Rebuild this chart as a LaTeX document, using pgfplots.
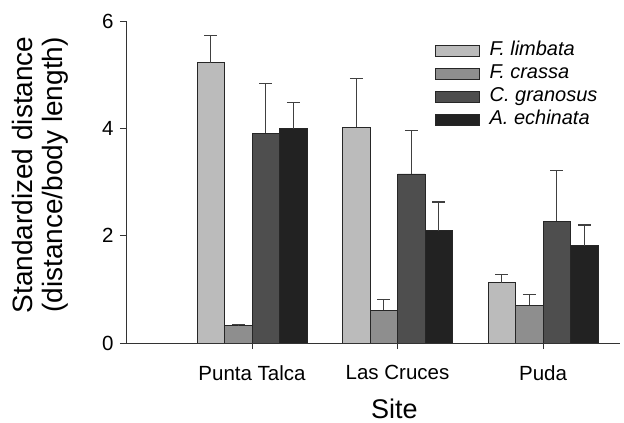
\documentclass[border=0pt]{standalone}
\usepackage{fontspec}
\setmainfont{Liberation Sans}
\usepackage{pgfplots}
\usepackage{pgfplotstable}
\pgfplotsset{compat=1.18}
\definecolor{cA}{HTML}{BBBBBB}
\definecolor{cB}{HTML}{8E8E8E}
\definecolor{cC}{HTML}{4E4E4E}
\definecolor{cD}{HTML}{222222}
\pgfplotstableread{
x y e
0 5.22 0.51
1 4.02 0.91
2 1.12 0.15
}\limbata
\pgfplotstableread{
x y e
0 0.32 0.03
1 0.61 0.20
2 0.70 0.20
}\crassa
\pgfplotstableread{
x y e
0 3.91 0.92
1 3.15 0.81
2 2.27 0.94
}\granosus
\pgfplotstableread{
x y e
0 3.99 0.49
1 2.09 0.54
2 1.81 0.39
}\echinata
\begin{document}
\begin{tikzpicture}
\begin{axis}[
  scale only axis, width=494pt, height=322pt,
  xmin=-0.866, xmax=2.529, ymin=0, ymax=6,
  axis lines*=left,
  axis line style={line width=0.9pt, black!80},
  ybar=0pt, bar width=27.5pt,
  xtick={0,1,2}, xticklabels={Punta Talca, Las Cruces, Puda},
  ytick={0,2,4,6},
  tick align=outside, major tick length=6pt,
  tick style={line width=0.9pt, black!80},
  /pgf/number format/assume math mode=true,
  tick label style={font=\fontsize{20.5}{24}\selectfont},
  xticklabel style={yshift=-13pt},
  yticklabel style={xshift=-3pt},
  ylabel={Standardized distance\\(distance/body length)},
  ylabel style={align=center, font=\fontsize{28}{30}\selectfont, at={(axis description cs:-0.174,0.522)}, anchor=center},
  xlabel={Site},
  xlabel style={font=\fontsize{27}{30}\selectfont, at={(axis description cs:0.5435,-0.203)}, anchor=center},
  legend image code/.code={\draw[#1, line width=0.8pt] (0pt,-5.5pt) rectangle (44pt,5.5pt); \path[draw=none, fill=none] (52pt,0pt);},
  legend cell align=left,
  legend style={at={(rel axis cs:0.6255,0.943)}, anchor=north west, draw=none, fill=none,
    inner sep=0pt, font=\itshape\fontsize{20}{22}\selectfont, row sep=0pt,
    nodes={text height=14pt, text depth=4.5pt, inner ysep=2.2pt, inner xsep=2pt}},
  error bars/y dir=plus, error bars/y explicit,
  error bars/error bar style={line width=1.3pt, black!75},
  error bars/error mark options={rotate=90, line width=1.3pt, black!75, mark size=6.5pt},
]
\addplot[fill=cA, draw=black!85, line width=0.8pt] table[x=x, y=y, y error=e]{\limbata};
\addplot[fill=cB, draw=black!85, line width=0.8pt] table[x=x, y=y, y error=e]{\crassa};
\addplot[fill=cC, draw=black!85, line width=0.8pt] table[x=x, y=y, y error=e]{\granosus};
\addplot[fill=cD, draw=black!85, line width=0.8pt] table[x=x, y=y, y error=e]{\echinata};
\legend{F. limbata, F. crassa, C. granosus, A. echinata}
\end{axis}
\pgfresetboundingbox
\path ([shift={(-126pt,-80pt)}]current axis.south west) rectangle ++(624pt,423pt);
\end{tikzpicture}
\end{document}
